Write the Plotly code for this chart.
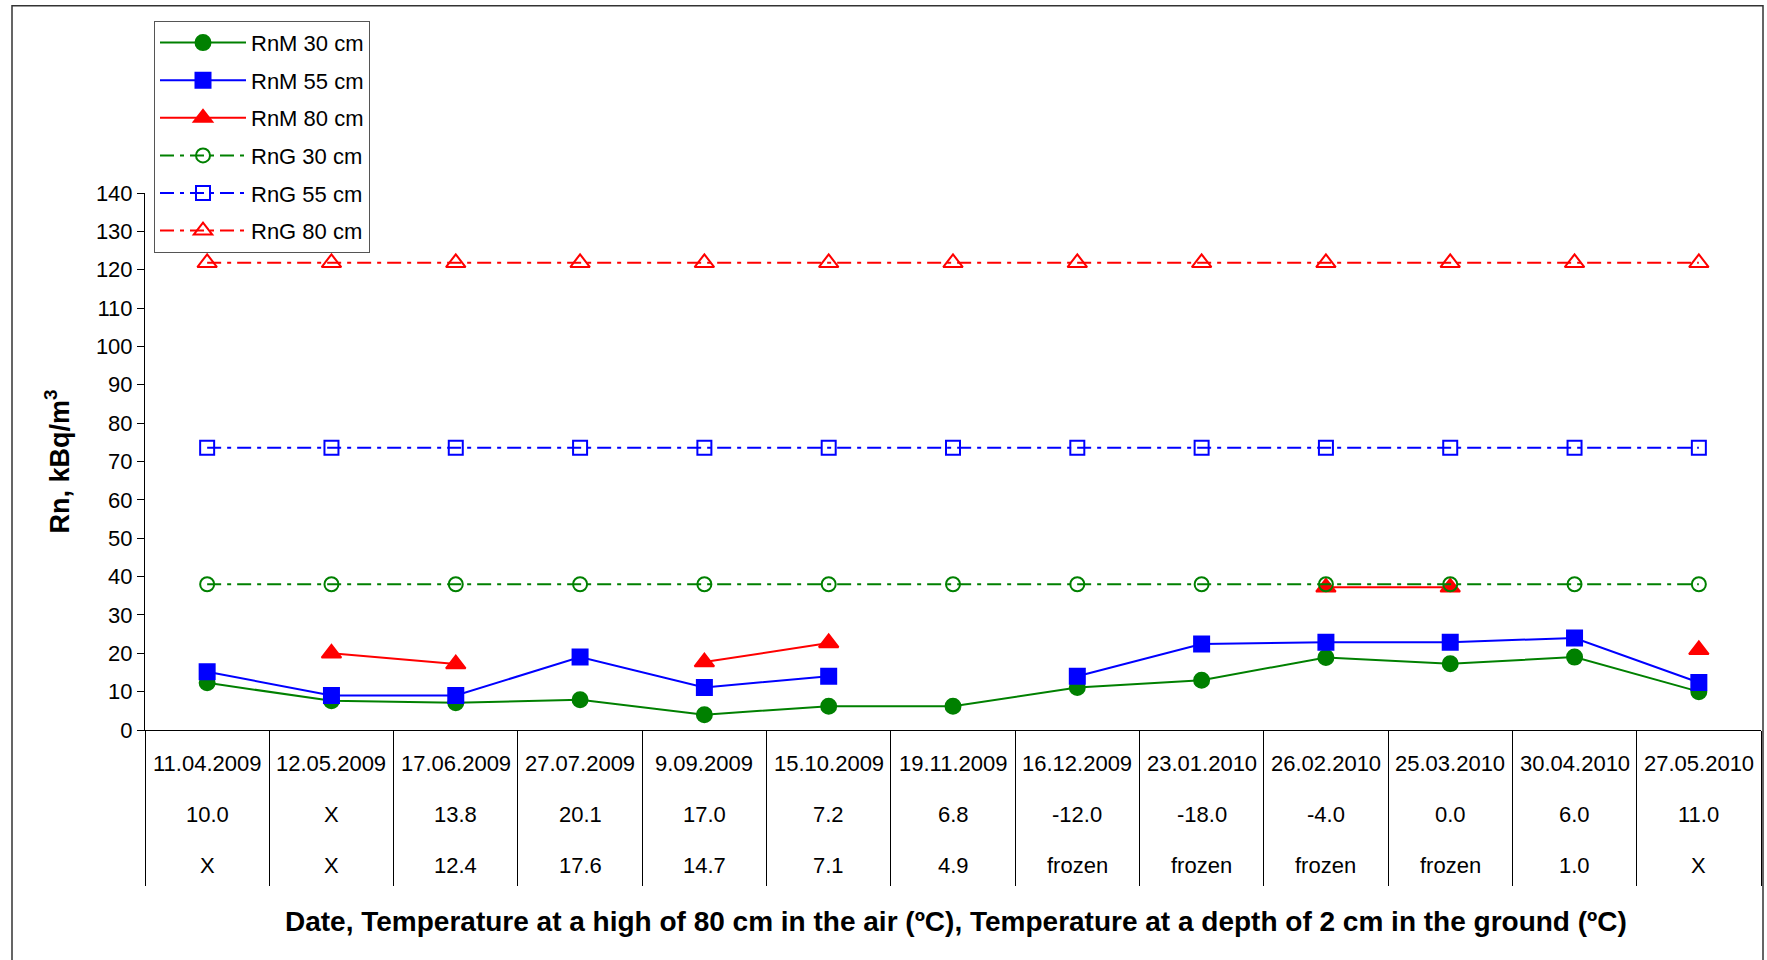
import plotly.graph_objects as go

dates = ["11.04.2009", "12.05.2009", "17.06.2009", "27.07.2009", "9.09.2009", "15.10.2009",
         "19.11.2009", "16.12.2009", "23.01.2010", "26.02.2010", "25.03.2010", "30.04.2010", "27.05.2010"]
air_temp = ["10.0", "X", "13.8", "20.1", "17.0", "7.2", "6.8", "-12.0", "-18.0", "-4.0", "0.0", "6.0", "11.0"]
ground_temp = ["X", "X", "12.4", "17.6", "14.7", "7.1", "4.9", "frozen", "frozen", "frozen", "frozen", "1.0", "X"]

rnm30 = [12.3, 7.6, 7.1, 7.9, 4.0, 6.2, 6.2, 11.1, 13.0, 18.9, 17.3, 19.0, 10.0]
rnm55 = [15.2, 9.0, 9.0, 19.0, 11.1, 14.0, None, 14.0, 22.4, 22.9, 22.9, 24.0, 12.4]
rnm80 = [None, 20.0, 17.2, None, 17.7, 22.7, None, None, None, 37.2, 37.2, None, 20.9]
rng30 = [38.0] * 13
rng55 = [73.6] * 13
rng80 = [121.8] * 13

GREEN = "#008000"
BLUE = "#0000FF"
RED = "#FF0000"
DASHDOT = "14px,6px,4px,6px"
FONT = "Liberation Sans, Arial, sans-serif"

fig = go.Figure()

series = [
    ("RnM 30 cm", rnm30, GREEN, "solid", "circle", 15),
    ("RnM 55 cm", rnm55, BLUE, "solid", "square", 15),
    ("RnM 80 cm", rnm80, RED, "solid", "triangle-up", 17),
    ("RnG 30 cm", rng30, GREEN, DASHDOT, "circle-open", 14),
    ("RnG 55 cm", rng55, BLUE, DASHDOT, "square-open", 14),
    ("RnG 80 cm", rng80, RED, DASHDOT, "triangle-up-open", 17),
]

for i, (name, vals, col, dash, sym, size) in enumerate(series):
    fig.add_trace(go.Scatter(
        x=dates, y=vals, name=name, mode="lines+markers",
        line=dict(color=col, width=2, dash=dash),
        marker=dict(symbol=sym, size=size, color=col, line=dict(color=col, width=2)),
        connectgaps=False, legendgroup=f"g{i}",
    ))

annotations = []
for i in range(len(dates)):
    for txt, yp in ((dates[i], -0.062), (air_temp[i], -0.157), (ground_temp[i], -0.252)):
        annotations.append(dict(x=dates[i], y=yp, xref="x", yref="paper", text=txt, showarrow=False,
                                xanchor="center", yanchor="middle",
                                font=dict(family=FONT, size=22, color="black")))

annotations.append(dict(
    x=(956 - 145) / 1616, y=-0.356, xref="paper", yref="paper", showarrow=False,
    text="<b>Date, Temperature at a high of 80 cm in the air (ºC), Temperature at a depth of 2 cm in the ground (ºC)</b>",
    xanchor="center", yanchor="middle", font=dict(family=FONT, size=28, color="black")))
annotations.append(dict(
    x=(57 - 145) / 1616, y=0.5, xref="paper", yref="paper", showarrow=False, textangle=-90,
    text="<b>Rn, kBq/m<sup>3</sup></b>",
    xanchor="center", yanchor="middle", font=dict(family=FONT, size=27, color="black")))

fig.update_layout(
    width=1767, height=960,
    margin=dict(l=145, r=6, t=192.5, b=229.5),
    paper_bgcolor="white", plot_bgcolor="white",
    font=dict(family=FONT, size=19, color="black"),
    showlegend=True,
    legend=dict(
        x=(154 - 145) / 1616, y=(730.5 - 20) / 538, xanchor="left", yanchor="top",
        bgcolor="white", bordercolor="#555555", borderwidth=1,
        font=dict(family=FONT, size=22, color="black"),
        traceorder="grouped", tracegroupgap=6, itemwidth=86,
    ),
    xaxis=dict(
        type="category", range=[-0.5, 12.5], categoryorder="array", categoryarray=dates,
        showticklabels=False, showgrid=False, zeroline=False,
        showline=True, linecolor="black", linewidth=1,
        ticks="outside", tickson="boundaries", ticklen=155, tickcolor="black", tickwidth=1,
    ),
    yaxis=dict(
        range=[0, 140], dtick=10, tick0=0, showgrid=False, zeroline=False,
        showline=True, linecolor="black", linewidth=1,
        ticks="outside", ticklen=7, tickcolor="black",
        tickfont=dict(family=FONT, size=22, color="black"),
    ),
    annotations=annotations,
    shapes=[dict(type="rect", xref="paper", yref="paper",
                 x0=(12 - 145) / 1616, x1=(1763 - 145) / 1616,
                 y0=-0.6, y1=(730.5 - 5) / 538,
                 line=dict(color="#333333", width=1.5), fillcolor="rgba(0,0,0,0)", layer="below")],
)

fig.write_html("out.html")
